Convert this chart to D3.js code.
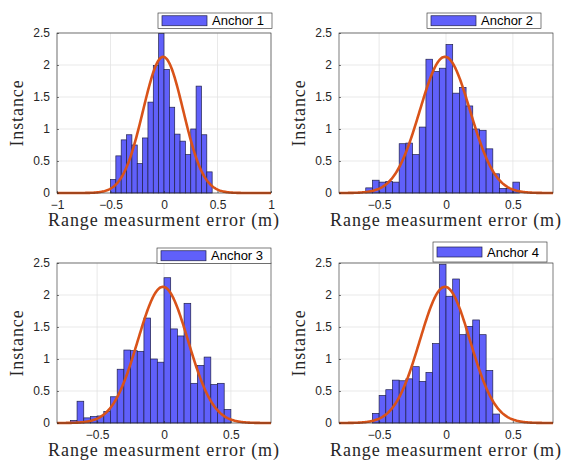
<!DOCTYPE html>
<html>
<head>
<meta charset="utf-8">
<script src="https://cdn.jsdelivr.net/npm/d3@7"></script>
<style>
  body { margin: 0; background: #fff; }
  svg { display: block; }
</style>
</head>
<body>
<div id="chart"></div>
<script>
// ---------Data----------
const anchors = ["Anchor 1", "Anchor 2", "Anchor 3", "Anchor 4"];
const binWidth = 0.05;
const binStarts = [-0.5, -0.6, -0.7, -0.55];

const heights1 = [0.21, 0.58, 0.83, 0.91, 0.75, 0.46, 0.86, 1.42, 1.99, 2.49, 1.93, 1.34, 0.92, 0.81, 0.6, 1.0, 1.67, 0.91, 0.33];
const heights2 = [0.08, 0.2, 0.17, 0.18, 0.17, 0.77, 0.78, 0.6, 1.03, 2.09, 1.9, 1.95, 2.32, 1.56, 1.65, 1.36, 1.0, 0.98, 0.69, 0.3, 0.07, 0.07, 0.17];
const heights3 = [0.04, 0.34, 0.08, 0.1, 0.11, 0.18, 0.41, 0.84, 1.14, 1.13, 1.12, 1.64, 1.0, 0.95, 2.27, 1.47, 1.36, 1.87, 0.62, 0.9, 1.03, 0.6, 0.62, 0.21];
const heights4 = [0.15, 0.43, 0.52, 0.67, 0.66, 0.69, 0.88, 0.65, 0.79, 1.24, 2.48, 1.98, 2.25, 1.38, 1.51, 1.61, 1.38, 0.82, 0.14];
const allHeights = [heights1, heights2, heights3, heights4];

// normal fit parameters for each anchor
const fitMu = [-0.008, -0.008, -0.008, -0.008];
const fitSigma = [0.1875, 0.1875, 0.1875, 0.1875];

const xDomains = [[-1, 1], [-0.8, 0.8], [-0.8, 0.8], [-0.8, 0.8]];
const xTickValues = [[-1, -0.5, 0, 0.5, 1], [-0.5, 0, 0.5], [-0.5, 0, 0.5], [-0.5, 0, 0.5]];
const yTickValues = [0, 0.5, 1, 1.5, 2, 2.5];

// ---------Layout----------
const width = 562;
const height = 465;
const panelW = 214;
const panelH = 160;
const panelPos = [
  { x: 57, y: 33 },
  { x: 339, y: 33 },
  { x: 57, y: 263 },
  { x: 339, y: 263 }
];
const legendPos = [
  { x: 158, y: 13, h: 15.5 },
  { x: 427, y: 13, h: 15.5 },
  { x: 157, y: 248, h: 15.5 },
  { x: 433, y: 242, h: 20 }
];

const barFill = "rgb(96,96,250)";
const barEdge = "#20204a";
const curveColor = "#D95319";
const axisColor = "#262626";
const gridColor = "#e3e3e3";
const serif = "Liberation Serif, Times New Roman, serif";
const sans = "Liberation Sans, Arial, sans-serif";

const svg = d3.select("#chart")
  .append("svg")
  .attr("width", width)
  .attr("height", height);

anchors.forEach((name, i) => {
  const pos = panelPos[i];
  const g = svg.append("g")
    .attr("transform", `translate(${pos.x}, ${pos.y})`);

  const x = d3.scaleLinear().domain(xDomains[i]).range([0, panelW]);
  const y = d3.scaleLinear().domain([0, 2.5]).range([panelH, 0]);

  // grid
  g.selectAll(".gx")
    .data(xTickValues[i])
    .enter()
    .append("line")
    .attr("x1", d => x(d)).attr("x2", d => x(d))
    .attr("y1", 0).attr("y2", panelH)
    .attr("stroke", gridColor)
    .attr("stroke-width", 0.8);

  g.selectAll(".gy")
    .data(yTickValues)
    .enter()
    .append("line")
    .attr("x1", 0).attr("x2", panelW)
    .attr("y1", d => y(d)).attr("y2", d => y(d))
    .attr("stroke", gridColor)
    .attr("stroke-width", 0.8);

  // bars
  const bins = allHeights[i].map((h, k) => ({
    x0: binStarts[i] + k * binWidth,
    x1: binStarts[i] + (k + 1) * binWidth,
    h: h
  }));

  g.selectAll(".bar")
    .data(bins)
    .enter()
    .append("rect")
    .attr("x", d => x(d.x0))
    .attr("y", d => y(d.h))
    .attr("width", d => x(d.x1) - x(d.x0))
    .attr("height", d => y(0) - y(d.h))
    .attr("fill", barFill)
    .attr("stroke", barEdge)
    .attr("stroke-width", 0.7);

  // fitted normal curve
  const mu = fitMu[i];
  const sigma = fitSigma[i];
  const pdf = v => Math.exp(-0.5 * ((v - mu) / sigma) ** 2) / (sigma * Math.sqrt(2 * Math.PI));
  const xs = d3.range(xDomains[i][0], xDomains[i][1] + 1e-9, (xDomains[i][1] - xDomains[i][0]) / 300);

  g.append("path")
    .datum(xs)
    .attr("fill", "none")
    .attr("stroke", curveColor)
    .attr("stroke-width", 2.6)
    .attr("d", d3.line().x(d => x(d)).y(d => y(pdf(d))));

  // axes box
  g.append("rect")
    .attr("width", panelW)
    .attr("height", panelH)
    .attr("fill", "none")
    .attr("stroke", axisColor)
    .attr("stroke-width", 0.6);

  // axes (ticks inside)
  const xAxis = g.append("g")
    .attr("transform", `translate(0, ${panelH})`)
    .call(d3.axisBottom(x).tickValues(xTickValues[i]).tickSizeInner(-2).tickSizeOuter(0).tickPadding(7).tickFormat(d3.format("")));
  const yAxis = g.append("g")
    .call(d3.axisLeft(y).tickValues(yTickValues).tickSizeInner(-2).tickSizeOuter(0).tickPadding(7).tickFormat(d3.format("")));

  [xAxis, yAxis].forEach(a => {
    a.select(".domain").remove();
    a.selectAll("line").attr("stroke", axisColor).attr("stroke-width", 0.6);
    a.selectAll("text")
      .attr("fill", "#262626")
      .style("font-family", sans)
      .style("font-size", "12px");
  });

  // axis labels
  g.append("text")
    .attr("x", panelW / 2)
    .attr("y", panelH + 33)
    .attr("text-anchor", "middle")
    .style("font-family", serif)
    .style("font-size", "18px")
    .style("letter-spacing", "0.9px")
    .attr("fill", "#262626")
    .text("Range measurment error (m)");

  g.append("text")
    .attr("transform", "rotate(-90)")
    .attr("x", -panelH / 2)
    .attr("y", -34)
    .attr("text-anchor", "middle")
    .style("font-family", serif)
    .style("font-size", "18px")
    .style("letter-spacing", "0.9px")
    .attr("fill", "#262626")
    .text("Instance");

  // legend
  const lp = legendPos[i];
  const lg = svg.append("g")
    .attr("transform", `translate(${lp.x}, ${lp.y})`);
  lg.append("rect")
    .attr("width", 114)
    .attr("height", lp.h)
    .attr("fill", "#fff")
    .attr("stroke", axisColor)
    .attr("stroke-width", 0.6);
  lg.append("rect")
    .attr("x", 4)
    .attr("y", lp.h / 2 - 5)
    .attr("width", 45)
    .attr("height", 10)
    .attr("fill", barFill)
    .attr("stroke", barEdge)
    .attr("stroke-width", 0.7);
  lg.append("text")
    .attr("x", 54)
    .attr("y", lp.h / 2 + 4.5)
    .style("font-family", sans)
    .style("font-size", "13px")
    .attr("fill", "#000")
    .text(name);
});
</script>
</body>
</html>
